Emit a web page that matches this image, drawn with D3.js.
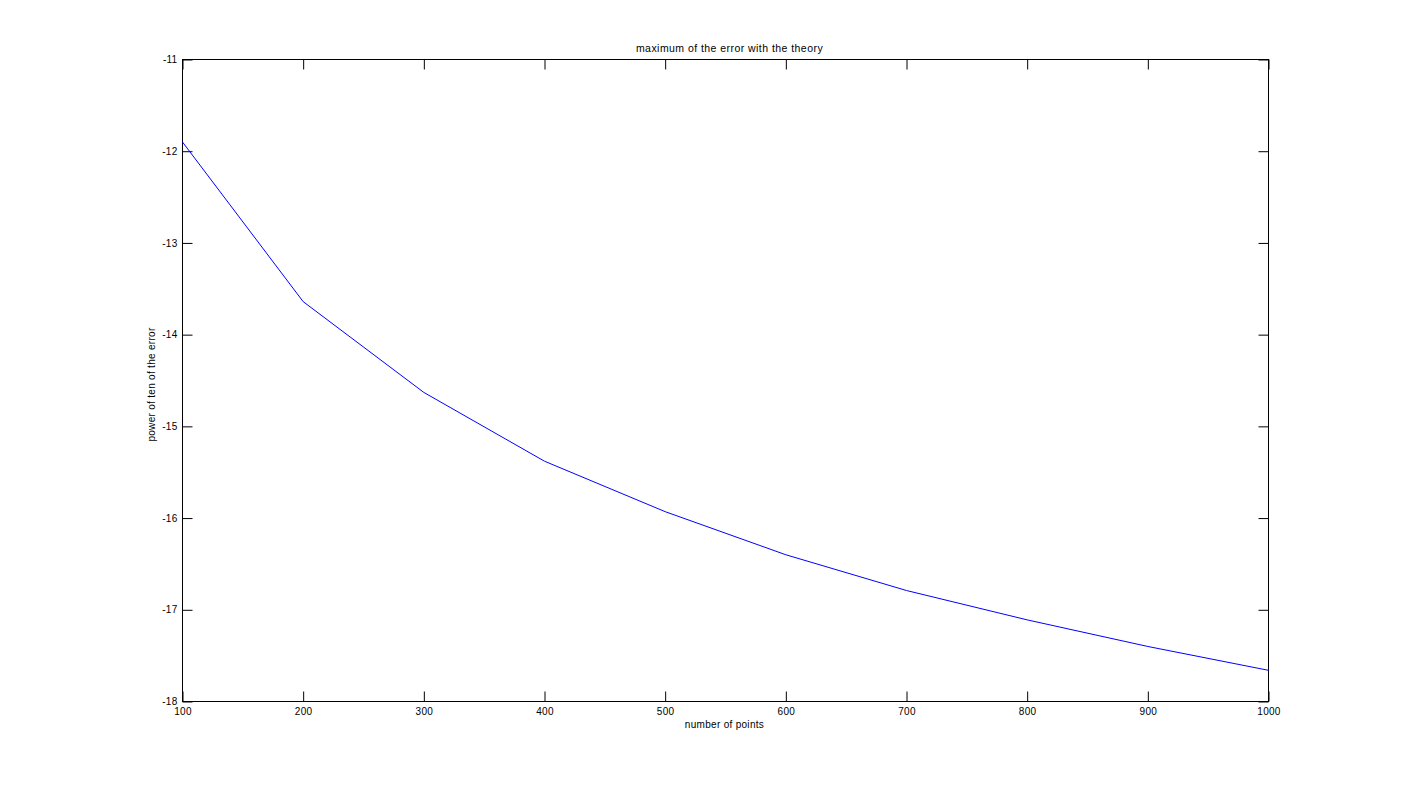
<!DOCTYPE html>
<html><head><meta charset="utf-8">
<script src="https://cdn.jsdelivr.net/npm/d3@7"></script>
<style>body{margin:0;background:#fff}svg{display:block}text{font-family:"Liberation Sans",Arial,sans-serif;fill:#000}</style>
</head><body>
<script>
const xValues = [100,200,300,400,500,600,700,800,900,1000];
const yValues = [-11.90,-13.64,-14.63,-15.38,-15.93,-16.40,-16.79,-17.11,-17.40,-17.66];
const xTicks = [100,200,300,400,500,600,700,800,900,1000];
const yTicks = [-11,-12,-13,-14,-15,-16,-17,-18];
const titleText = "maximum of the error with the theory";
const xLabel = "number of points";
const yLabel = "power of ten of the error";

const W=1401,H=789;
const L=182.5,R=1268.5,T=59.5,B=701.5;
const svg=d3.select("body").append("svg").attr("width",W).attr("height",H);
const x=d3.scaleLinear().domain([100,1000]).range([L,R]);
const y=d3.scaleLinear().domain([-18,-11]).range([B,T]);
const tl=10;
const fs="10px";

svg.append("rect").attr("x",L).attr("y",T).attr("width",R-L).attr("height",B-T)
  .attr("fill","#fff").attr("stroke","#000").attr("stroke-width",1);

svg.append("g").attr("transform",`translate(0,${B})`)
  .call(d3.axisBottom(x).tickValues(xTicks).tickSizeInner(-tl).tickSizeOuter(0).tickPadding(6).tickFormat(d3.format("d")));
svg.append("g").attr("transform",`translate(0,${T})`)
  .call(d3.axisTop(x).tickValues(xTicks).tickSizeInner(-tl).tickSizeOuter(0).tickFormat(""));
svg.append("g").attr("transform",`translate(${L},0)`)
  .call(d3.axisLeft(y).tickValues(yTicks).tickSizeInner(-tl).tickSizeOuter(0).tickPadding(5).tickFormat(d=>String(d).replace("\u2212","-")));
svg.append("g").attr("transform",`translate(${R},0)`)
  .call(d3.axisRight(y).tickValues(yTicks).tickSizeInner(-tl).tickSizeOuter(0).tickFormat(""));
svg.selectAll(".domain").remove();
svg.selectAll(".tick line").attr("stroke","#000");
svg.selectAll(".tick text").attr("font-size",fs).attr("font-family","'Liberation Sans',Arial,sans-serif").attr("fill","#000").attr("letter-spacing","0.3px");

svg.append("path").datum(xValues.map((v,i)=>[v,yValues[i]]))
  .attr("fill","none").attr("stroke","#0000ff").attr("stroke-width",1)
  .attr("d",d3.line().x(d=>x(d[0])).y(d=>y(d[1])));

svg.append("text").attr("x",(L+R)/2+4).attr("y",52).attr("text-anchor","middle").attr("font-size","10.5px").attr("letter-spacing","0.45px").text(titleText);
svg.append("text").attr("x",(L+R)/2-1).attr("y",728).attr("text-anchor","middle").attr("font-size","10px").attr("letter-spacing","0.3px").text(xLabel);
svg.append("text").attr("transform",`translate(155,${(T+B)/2+4}) rotate(-90)`).attr("text-anchor","middle").attr("font-size","10px").attr("letter-spacing","0.3px").text(yLabel);
</script>
</body></html>
